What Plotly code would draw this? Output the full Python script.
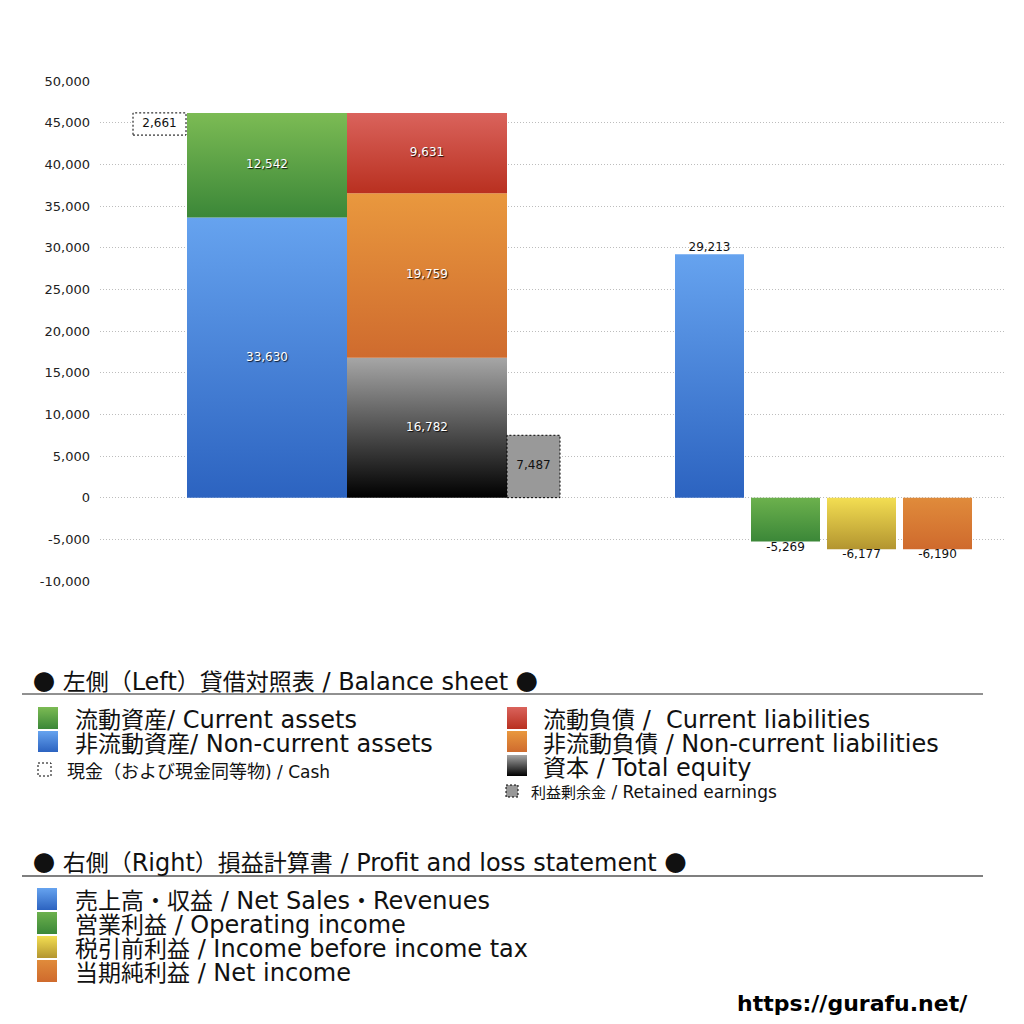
import plotly.graph_objects as go

# Data (balance sheet + P/L)
asset_names = ['非流動資産', '流動資産']
asset_values = [33630, 12542]
liab_names = ['資本', '非流動負債', '流動負債']
liab_values = [16782, 19759, 9631]
cash_value = 2661
retained_value = 7487
pl_names = ['売上高・収益', '営業利益', '税引前利益', '当期純利益']
pl_values = [29213, -5269, -6177, -6190]
y_ticks = list(range(-10000, 50001, 5000))

FONT = 'DejaVu Sans, Noto Sans CJK JP'
CJK_FONT = 'Noto Sans CJK JP'

# gradient colours (bottom, top)
blue = ('#2c63c0', '#66a3ef')
green = ('#3b8738', '#7cbb54')
red = ('#b93020', '#da635c')
orange = ('#cf6b2e', '#e9983e')
black = ('#000000', '#a6a6a6')
asset_colors = [blue, green]
liab_colors = [black, orange, red]
pl_colors = [blue, ('#3b8738', '#6cb14d'), ('#b39530', '#f3de52'), ('#cf6a2d', '#e08b3b')]

# the page body adds 8px, so work in reference pixels and shift
OFF = 8
W = 1024
L, R, T, B = 100, 1005, 81, 581          # plot area, reference pixels
ASSET_X = (87, 247)
LIAB_X = (247, 407)
RETAINED_X = (407, 460)
CASH_X = (33, 86)
PL_X = [(575, 644), (651, 720), (727, 796), (803, 872)]


def box(x, y0, y1):
    return [x[0], x[1], x[1], x[0], x[0]], [y0, y0, y1, y1, y0]


fig = go.Figure()


def grad_poly(x, y0, y1, colors, name, axes=('x', 'y')):
    xs, ys = box(x, y0, y1)
    lo, hi = min(y0, y1), max(y0, y1)
    cs = [[0, colors[0]], [1, colors[1]]]
    if axes[1] == 'y2':  # reversed pixel axis
        cs = [[0, colors[1]], [1, colors[0]]]
    fig.add_trace(go.Scatter(
        x=xs, y=ys, mode='none', fill='toself', name=name,
        xaxis=axes[0], yaxis=axes[1],
        fillgradient=dict(type='vertical', start=lo, stop=hi, colorscale=cs),
        showlegend=False, hoverinfo='name'))


label_x, label_y, label_t = [], [], []

# assets column
base = 0
for n, v, c in zip(asset_names, asset_values, asset_colors):
    grad_poly(ASSET_X, base, base + v, c, n)
    label_x.append(sum(ASSET_X) / 2)
    label_y.append(base + v / 2)
    label_t.append(f'{v:,}')
    base += v
asset_total = base

# liabilities + equity column
base = 0
for n, v, c in zip(liab_names, liab_values, liab_colors):
    grad_poly(LIAB_X, base, base + v, c, n)
    label_x.append(sum(LIAB_X) / 2)
    label_y.append(base + v / 2)
    label_t.append(f'{v:,}')
    base += v

fig.add_trace(go.Scatter(
    x=label_x, y=label_y, text=label_t, mode='text', showlegend=False,
    hoverinfo='skip',
    textfont=dict(family=FONT, size=12, color='white',
                  shadow='1px 1px 1px rgba(0,0,0,0.85)')))

# cash (dotted box at top of assets) and retained earnings
dots = dict(color='black', width=1, dash='2px,2px')
xs, ys = box(CASH_X, asset_total - cash_value, asset_total)
fig.add_trace(go.Scatter(x=xs, y=ys, mode='lines', fill='toself', fillcolor='white',
                         line=dots, showlegend=False, name='現金'))
xs, ys = box(RETAINED_X, 0, retained_value)
fig.add_trace(go.Scatter(x=xs, y=ys, mode='lines', fill='toself', fillcolor='#999999',
                         line=dots, showlegend=False, name='利益剰余金'))
fig.add_trace(go.Scatter(
    x=[sum(CASH_X) / 2, sum(RETAINED_X) / 2],
    y=[asset_total - cash_value / 2, retained_value / 2],
    text=[f'{cash_value:,}', f'{retained_value:,}'], mode='text',
    showlegend=False, hoverinfo='skip',
    textfont=dict(family=FONT, size=12, color='#111')))

# P/L bars
for n, v, c, x in zip(pl_names, pl_values, pl_colors, PL_X):
    grad_poly(x, 0, v, c, n)
    fig.add_trace(go.Scatter(
        x=[sum(x) / 2], y=[v], text=[f'{v:,}'], mode='text',
        textposition='top center' if v >= 0 else 'bottom center',
        showlegend=False, hoverinfo='skip',
        textfont=dict(family=FONT, size=12, color='#111')))


# ---- custom legend below the chart (x2/y2 = reference pixels) ----
def kind(ch):
    if ch == '●':
        return 'dot'
    o = ord(ch)
    if 0x3000 <= o <= 0x30ff or 0x3400 <= o <= 0x9fff or 0xff00 <= o <= 0xffef:
        return 'cjk'
    return 'lat'


def mixed(s, cjk, dot):
    # latin runs use the annotation font, CJK runs get their own size
    runs = []
    for ch in s:
        k = kind(ch)
        if runs and runs[-1][0] == k:
            runs[-1][1] += ch
        else:
            runs.append([k, ch])
    out = ''
    for k, t in runs:
        if k == 'lat':
            out += t
        else:
            size = cjk if k == 'cjk' else dot
            out += (f'<span style="font-family:\'{CJK_FONT}\';font-size:{size}px">'
                    f'{t}</span>')
    return out


def text(x, y, s, latin, cjk, dot=22):
    fig.add_annotation(x=x, y=y, xref='x2', yref='y2',
                       text=mixed(s, cjk, dot), showarrow=False,
                       xanchor='left', yanchor='middle',
                       font=dict(family=FONT, size=latin, color='#111'))


def square(x0, y0, x1, y1, colors=None, fill=None):
    if colors:
        grad_poly((x0, x1), y0, y1, colors, '', axes=('x2', 'y2'))
    else:
        fig.add_shape(type='rect', xref='x2', yref='y2', x0=x0, x1=x1, y0=y0, y1=y1,
                      fillcolor=fill, line=dots)


def rule(y, color, width):
    fig.add_shape(type='line', xref='x2', yref='y2', x0=22, x1=983, y0=y, y1=y,
                  line=dict(color=color, width=width))


BIG = (24, 23)     # latin, CJK sizes for legend rows
HEAD = (24, 23)

text(31, 680, '● 左側（Left）貸借対照表 / Balance sheet ●', *HEAD)
rule(694, '#222', 1)
square(38, 707, 58, 729, green)
text(73, 718, '流動資産/ Current assets', *BIG)
square(38, 731, 58, 752, blue)
text(73, 742, '非流動資産/ Non-current assets', *BIG)
square(38, 763, 51, 776, fill='white')
text(65, 770, '現金（および現金同等物) / Cash', 17, 18)

square(507, 707, 527, 729, red)
text(541, 718, '流動負債 /  Current liabilities', *BIG)
square(507, 731, 527, 752, orange)
text(541, 742, '非流動負債 / Non-current liabilities', *BIG)
square(507, 755, 527, 776, black)
text(541, 766, '資本 / Total equity', *BIG)
square(506, 785, 518, 797, fill='#999999')
text(529, 791, '利益剰余金 / Retained earnings', 17, 15)

text(31, 861, '● 右側（Right）損益計算書 / Profit and loss statement ●', *HEAD)
rule(876, '#555', 1.5)
pl_legend = ['売上高・収益 / Net Sales・Revenues', '営業利益 / Operating income',
             '税引前利益 / Income before income tax', '当期純利益 / Net income']
for i, (s, c) in enumerate(zip(pl_legend, pl_colors)):
    y0 = 888 + i * 24
    square(37, y0, 57, y0 + 22, c)
    text(73, y0 + 11, s, *BIG)

fig.add_annotation(x=970, y=1003, xref='x2', yref='y2',
                   text='<b>https://gurafu.net/</b>', showarrow=False,
                   xanchor='right', yanchor='middle',
                   font=dict(family='DejaVu Sans', size=22, color='black'))

fig.update_layout(
    width=W, height=W,
    margin=dict(l=0, r=0, t=0, b=0, autoexpand=False),
    plot_bgcolor='rgba(0,0,0,0)', paper_bgcolor='white',
    xaxis=dict(range=[0, R - L], visible=False, fixedrange=True,
               domain=[(L - OFF) / W, (R - OFF) / W]),
    yaxis=dict(range=[-10000, 50000], tickvals=y_ticks,
               domain=[1 - (B - OFF) / W, 1 - (T - OFF) / W],
               ticktext=[f'{v:,}' for v in y_ticks],
               showgrid=True, gridcolor='#bdbdbd', griddash='1px,2px', gridwidth=1,
               zeroline=False, ticks='', ticklabelstandoff=9,
               tickfont=dict(family=FONT, size=13, color='#222')),
    xaxis2=dict(range=[OFF, W + OFF], domain=[0, 1], visible=False, anchor='y2'),
    yaxis2=dict(range=[W + OFF, OFF], domain=[0, 1], visible=False, anchor='x2'),
    showlegend=False,
)

fig.write_html('out.html')
